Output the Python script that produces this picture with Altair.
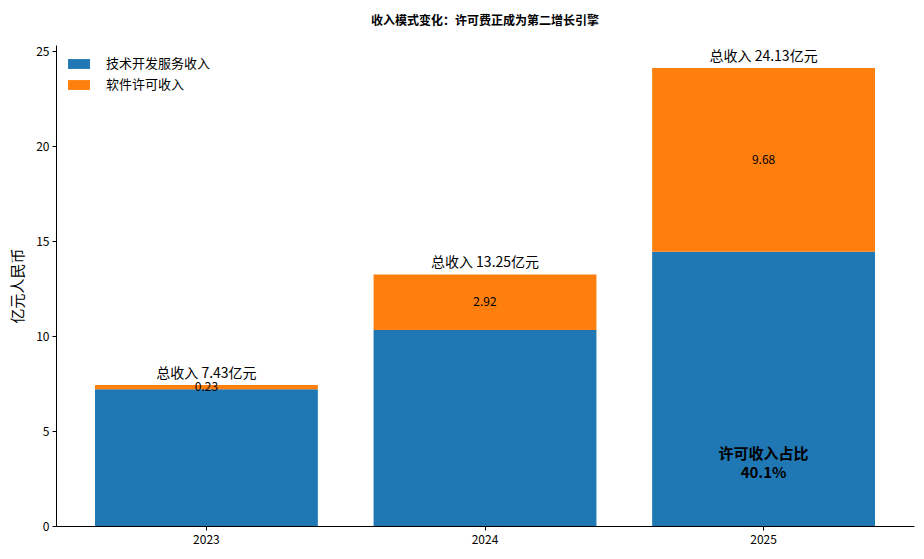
import altair as alt
import pandas as pd

years = ["2023", "2024", "2025"]
tech = [7.20, 10.33, 14.45]
lic = [0.23, 2.92, 9.68]
series = ["技术开发服务收入", "软件许可收入"]
colors = ["#1f77b4", "#ff7f0e"]

FONT = "Noto Sans CJK SC"

rows = []
for i, y in enumerate(years):
    rows.append({"year": y, "kind": series[0], "v": tech[i], "k": 0})
    rows.append({"year": y, "kind": series[1], "v": lic[i], "k": 1})
df = pd.DataFrame(rows)

tot = pd.DataFrame({
    "year": years,
    "total": [round(a + b, 2) for a, b in zip(tech, lic)],
    "mid": [a + b / 2 for a, b in zip(tech, lic)],
    "lic": ["%.2f" % b for b in lic],
})
tot["label"] = ["总收入 %.2f亿元" % t for t in tot["total"]]

share = lic[2] / (tech[2] + lic[2]) * 100
note = pd.DataFrame({"year": ["2025"], "y": [3.8],
                     "t": ["许可收入占比\n%.1f%%" % share]})

x = alt.X("year:N", title=None,
          scale=alt.Scale(paddingInner=0.2, paddingOuter=0.14),
          axis=alt.Axis(labelAngle=0, labelFontSize=12, labelColor="#000",
                        tickColor="#000", domainColor="#000", tickSize=4,
                        labelPadding=4, labelFont=FONT))

bars = alt.Chart(df).mark_bar().encode(
    x=x,
    y=alt.Y("v:Q", stack="zero", title="亿元人民币",
            scale=alt.Scale(domain=[0, 25.34], nice=False),
            axis=alt.Axis(values=[0, 5, 10, 15, 20, 25], grid=False,
                          labelFontSize=12, labelColor="#000", tickColor="#000",
                          domainColor="#000", tickSize=4, labelPadding=3,
                          titleFontSize=15, titleFontWeight="normal",
                          titleColor="#000", titlePadding=10, labelFont=FONT,
                          titleFont=FONT)),
    color=alt.Color("kind:N", title=None,
                    scale=alt.Scale(domain=series, range=colors),
                    legend=alt.Legend(orient="none", legendX=12, legendY=8,
                                      symbolType="M-1,-0.45H1V0.45H-1Z",
                                      symbolSize=480, symbolStrokeWidth=0,
                                      labelFontSize=13, labelFont=FONT,
                                      labelColor="#000", rowPadding=3,
                                      labelOffset=16)),
    order=alt.Order("k:Q"),
)

totals = alt.Chart(tot).mark_text(baseline="bottom", dy=-4, fontSize=14,
                                  font=FONT, color="#000").encode(
    x="year:N", y="total:Q", text="label:N")

inner = alt.Chart(tot).mark_text(baseline="middle", fontSize=12,
                                 font=FONT, color="#000").encode(
    x="year:N", y="mid:Q", text="lic:N")

anno = alt.Chart(note).mark_text(baseline="middle", fontSize=15,
                                 fontWeight="bold", font=FONT, color="#000",
                                 lineBreak="\n", lineHeight=19).encode(
    x="year:N", y="y:Q", text="t:N")

chart = alt.layer(bars, totals, inner, anno).properties(
    width=858, height=481,
    autosize=alt.AutoSizeParams(type="none"),
    padding={"left": 48, "top": 37, "right": 2, "bottom": 25},
    title=alt.Title("收入模式变化：许可费正成为第二增长引擎", fontSize=12,
                    fontWeight="bold", font=FONT, color="#000", offset=17),
).configure_view(stroke=None)

chart.save("out.html", embed_options={"renderer": "svg", "actions": False})
